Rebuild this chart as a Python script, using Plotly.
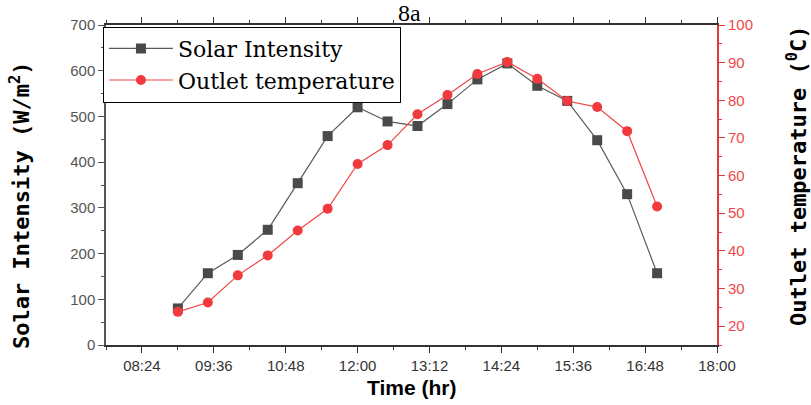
import plotly.graph_objects as go

times = ["09:00", "09:30", "10:00", "10:30", "11:00", "11:30", "12:00", "12:30", "13:00",
         "13:30", "14:00", "14:30", "15:00", "15:30", "16:00", "16:30", "17:00"]
solar_intensity = [80, 157, 197, 252, 354, 457, 520, 489, 479, 527, 581, 616, 567, 534, 448, 330, 157]
outlet_temp = [23.8, 26.3, 33.5, 38.8, 45.4, 51.2, 63.1, 68.1, 76.3, 81.4, 87.0, 90.2, 85.7, 79.8, 78.2, 71.8, 51.8]

day = "2000-01-01 "
x = [day + t for t in times]

fig = go.Figure()
fig.add_trace(go.Scatter(
    x=x, y=solar_intensity, name="Solar Intensity", mode="lines+markers",
    line=dict(color="#5a5a5a", width=1.2),
    marker=dict(symbol="square", size=10, color="#4a4a4a"),
))
fig.add_trace(go.Scatter(
    x=x, y=outlet_temp, name="Outlet temperature", mode="lines+markers", yaxis="y2",
    line=dict(color="#f04848", width=1.2),
    marker=dict(symbol="circle", size=10, color="#f03a3e"),
))

title_font = dict(family="DejaVu Sans Mono", size=22, color="black")

fig.update_layout(
    width=811, height=405, autosize=False,
    margin=dict(l=106, r=94, t=25, b=60, pad=0, autoexpand=False),
    paper_bgcolor="white", plot_bgcolor="white",
    showlegend=True,
    legend=dict(x=-0.005, y=0.995, xanchor="left", yanchor="top",
                bordercolor="black", borderwidth=1, bgcolor="white",
                font=dict(family="DejaVu Serif", size=22, color="black"),
                tracegroupgap=0, itemwidth=64),
    xaxis=dict(
        type="date", automargin=False,
        range=[day + "07:48", day + "18:00"],
        tick0=day + "08:24", dtick=72 * 60 * 1000, tickformat="%H:%M",
        ticks="outside", ticklen=6, tickcolor="#333", showgrid=False,
        minor=dict(ticks="outside", ticklen=3, dtick=36 * 60 * 1000, tick0=day + "08:24", tickcolor="#333"),
        showline=True, linecolor="#333", linewidth=1.5, mirror="ticks",
        tickfont=dict(family="Liberation Sans", size=15, color="#333"),
        zeroline=False,
    ),
    yaxis=dict(
        automargin=False,
        range=[0, 700], dtick=100, tick0=0,
        ticks="outside", ticklen=6, tickcolor="#555", showgrid=False,
        minor=dict(ticks="outside", ticklen=3, dtick=50, tickcolor="#555"),
        showline=True, linecolor="#555", linewidth=1.5,
        tickfont=dict(family="Liberation Sans", size=15, color="#555"),
        zeroline=False,
    ),
    yaxis2=dict(
        automargin=False,
        overlaying="y", side="right", anchor="x",
        range=[15, 100], dtick=10, tick0=20,
        ticks="outside", ticklen=6, tickcolor="#e03a3a", showgrid=False,
        minor=dict(ticks="outside", ticklen=3, dtick=5, tickcolor="#e03a3a"),
        showline=True, linecolor="#e03a3a", linewidth=2,
        tickfont=dict(family="Liberation Sans", size=15, color="#f04848"),
        zeroline=False,
    ),
    annotations=[
        dict(text="8a", xref="paper", yref="paper", x=0.4975, y=1.0375,
             xanchor="center", yanchor="middle", showarrow=False,
             font=dict(family="Liberation Serif", size=24, color="black")),
        dict(text="<b>Time (hr)</b>", xref="paper", yref="paper", x=0.5, y=-0.134,
             xanchor="center", yanchor="middle", showarrow=False,
             font=dict(family="Liberation Sans", size=21, color="black")),
        dict(text="<b>Solar Intensity (W/m<sup>2</sup>)</b>", xref="paper", yref="paper",
             x=-0.1408, y=0.4375, xanchor="center", yanchor="middle", textangle=-90,
             showarrow=False, font=title_font),
        dict(text="<b>Outlet temperature (<sup>0</sup>C)</b>", xref="paper", yref="paper",
             x=1.131, y=0.528, xanchor="center", yanchor="middle", textangle=-90,
             showarrow=False, font=title_font),
    ],
)

fig.write_html("out.html")
